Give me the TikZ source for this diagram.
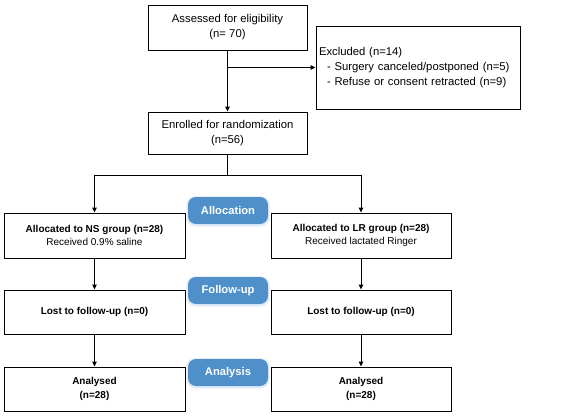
\documentclass[tikz,border=0pt]{standalone}
\usepackage{fontspec}
\setmainfont{Liberation Sans}
\usetikzlibrary{arrows.meta}
\begin{document}
\begin{tikzpicture}[x=1pt,y=-1pt,
  box/.style={draw=black,line width=1pt,fill=white,inner sep=2pt,align=center},
  topfont/.style={font=\fontsize{11.3}{15}\selectfont},
  lowfont/.style={font=\fontsize{10}{12.5}\selectfont},
  pill/.style={fill=pillblue,rounded corners=8pt,text=white,minimum width=80pt,minimum height=27pt,inner sep=0pt,font=\fontsize{11.2}{13}\selectfont\bfseries},
  conn/.style={line width=1pt,-{Triangle[length=5pt,width=4.5pt]}},
  line/.style={line width=1pt}]
\definecolor{pillblue}{HTML}{4F8FCA}
\definecolor{pillglow}{HTML}{E2EDF8}
\useasboundingbox (0,0) rectangle (567,418);
\fill[white] (0,0) rectangle (567,418);
% boxes
\node[box,topfont,minimum width=159pt,minimum height=45pt] (assess) at (227.5,27.5) {Assessed for eligibility\\(n= 70)};
\node[box,topfont,minimum width=204pt,minimum height=83pt,text width=198pt,align=left,inner xsep=3pt] (excl) at (418,67.5) {Excluded (n=14)\\\hspace*{8pt}- Surgery canceled/postponed (n=5)\\\hspace*{8pt}- Refuse or consent retracted (n=9)};
\node[box,topfont,minimum width=159pt,minimum height=42pt] (enr) at (227.5,133) {Enrolled for randomization\\(n=56)};
\node[box,lowfont,minimum width=181pt,minimum height=45pt] (ns) at (94.5,235.5) {\textbf{Allocated to NS group (n=28)}\\Received 0.9\% saline};
\node[box,lowfont,minimum width=180pt,minimum height=45pt] (lr) at (361,235.5) {\textbf{Allocated to LR group (n=28)}\\Received lactated Ringer};
\node[box,font=\fontsize{10}{12.5}\selectfont\bfseries,minimum width=181pt,minimum height=44pt] (lostns) at (94.5,312) {Lost to follow-up (n=0)};
\node[box,font=\fontsize{10}{12.5}\selectfont\bfseries,minimum width=180pt,minimum height=44pt] (lostlr) at (361,312) {Lost to follow-up (n=0)};
\node[box,font=\fontsize{10}{14}\selectfont\bfseries,minimum width=181pt,minimum height=44pt] (anns) at (94.5,389) {Analysed\\(n=28)};
\node[box,font=\fontsize{10}{14}\selectfont\bfseries,minimum width=180pt,minimum height=44pt] (anlr) at (361,389) {Analysed\\(n=28)};
% pills
\foreach \y/\n/\t in {210.5/palloc/Allocation,290.5/pfollow/Follow-up,372.5/panal/Analysis}{
  \fill[pillglow,rounded corners=9pt] (186.5,\y-14.5) rectangle (269.5,\y+16);
  \node[pill] (\n) at (228,\y) {\t};
}
% connectors
\coordinate (branch) at (assess.south |- excl.west);
\coordinate (split) at (227.5,175);
\draw[conn] (assess.south) -- (enr.north);
\draw[conn] (branch) -- (excl.west);
\draw[line] (enr.south) -- (split);
\draw[conn] (split) -| (ns.north);
\draw[conn] (split) -| (lr.north);
\draw[conn] (ns.south) -- (lostns.north);
\draw[conn] (lr.south) -- (lostlr.north);
\draw[conn] (lostns.south) -- (anns.north);
\draw[conn] (lostlr.south) -- (anlr.north);
\end{tikzpicture}
\end{document}
